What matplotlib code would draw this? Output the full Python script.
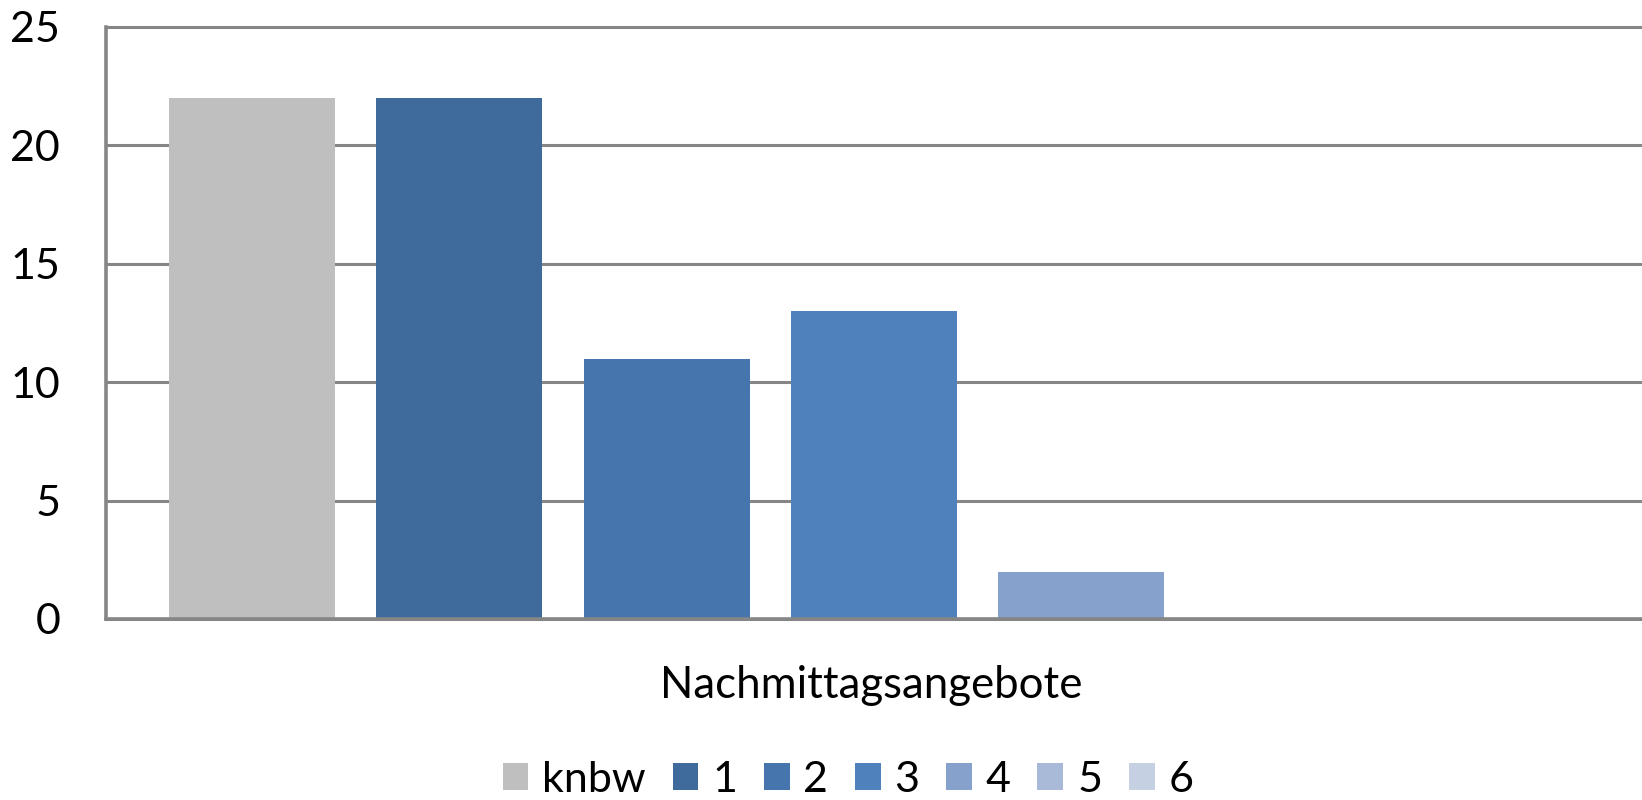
import numpy as np
from matplotlib import pyplot as plt
from matplotlib.patches import Patch

plt.rcParams['font.family'] = ['Lato', 'DejaVu Sans']

# %% data
series = ['knbw', '1', '2', '3', '4', '5', '6']
values = [22, 22, 11, 13, 2, 0, 0]
category = 'Nachmittagsangebote'
clr_list = ['#bfbfbf', '#3f6a9c', '#4675ad', '#4f81bd', '#86a1cb', '#a9bad8', '#c5d0e3']
yticks = [0, 5, 10, 15, 20, 25]

# %% figure
W, H = 1642, 800
fig = plt.figure(figsize=(W / 100, H / 100), dpi=100)
ax = fig.add_axes([106 / W, (H - 619) / H, (W - 106) / W, (619 - 27) / H])

step = 1.0
width = 166 / 207.4
pos = (np.arange(len(series)) - (len(series) - 1) / 2) * step
for i in range(len(series)):
    ax.bar(pos[i], values[i], width=width, color=clr_list[i], linewidth=0, zorder=3)

half = (W - 106) / 207.4 / 2
ax.set_xlim(-half, half)
ax.set_ylim(0, 25)
ax.set_xticks([])
ax.set_yticks(yticks)
ax.tick_params(axis='y', length=0, pad=33, labelsize=31)

grid_clr = '#868686'
ax.yaxis.grid(True, color=grid_clr, linewidth=2.2, zorder=1)
for l in ax.get_ygridlines():
    l.set_clip_on(False)
ax.set_axisbelow(True)
for s in ['top', 'right']:
    ax.spines[s].set_visible(False)
for s in ['left', 'bottom']:
    ax.spines[s].set_color(grid_clr)
    ax.spines[s].set_linewidth(2.6)
    ax.spines[s].set_zorder(4)

fig.text(871 / W, 1 - 686 / H, category, ha='center', va='center', fontsize=31.5)

handles = [Patch(facecolor=c, edgecolor='none') for c in clr_list]
fig.legend(handles, series, loc='center', bbox_to_anchor=(848 / W, 1 - 780 / H),
           ncol=len(series), frameon=False, fontsize=31,
           handlelength=0.6, handleheight=0.6, handletextpad=0.32,
           columnspacing=0.62, borderpad=0, borderaxespad=0)

plt.savefig('out.png', dpi=100)
